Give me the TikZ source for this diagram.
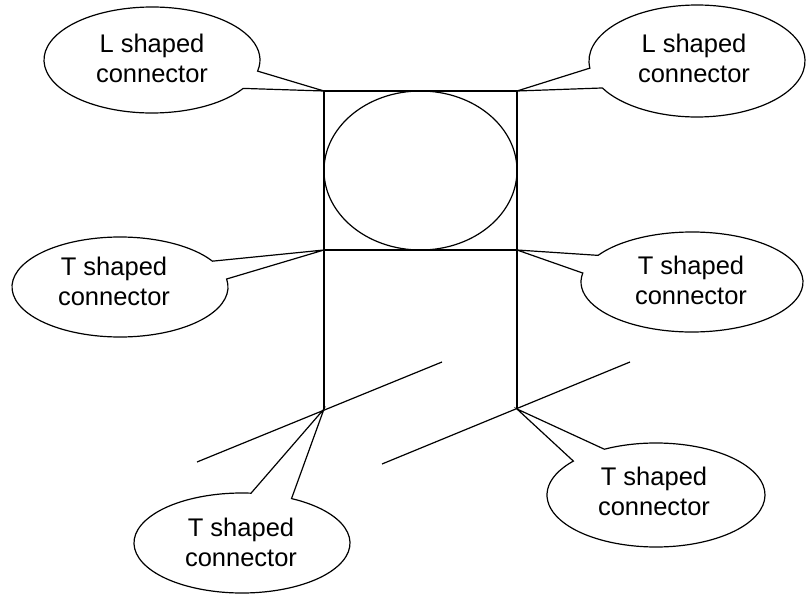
\documentclass[tikz,border=0pt]{standalone}
\usepackage{fontspec}
\setmainfont{Liberation Sans}
\begin{document}
\begin{tikzpicture}[x=1pt,y=-1pt,
  lw/.style={line width=1.2pt, line join=miter},
  bubble/.style={lw, draw=black, fill=white},
  lbl/.style={align=center, font=\fontsize{25.5}{30}\selectfont, inner sep=0pt}]
\useasboundingbox (0,0) rectangle (807,594);
% key points
\coordinate (tl) at (324,91);
\coordinate (tr) at (517,91);
\coordinate (ml) at (324,250);
\coordinate (mr) at (517,250);
\coordinate (bl) at (324,409);
\coordinate (br) at (517,409);
\coordinate (d1a) at (197,462);
\coordinate (d1b) at (442,362);
\coordinate (d2a) at (382,464);
\coordinate (d2b) at (630,362);
% frame
\draw[lw] (tl) rectangle (mr);
\draw[lw] (ml) -- (bl);
\draw[lw] (mr) -- (br);
\draw[lw] (420.5,170.5) ellipse [x radius=96.5, y radius=79.5];
\draw[lw] (d1a) -- (d1b);
\draw[lw] (d2a) -- (d2b);
% callouts
\draw[bubble] (152,60) ++(32.4:108 and 53) arc[start angle=32.4, end angle=372.1, x radius=108, y radius=53] -- (tl) -- cycle;
\draw[bubble] (697,61) ++(172.7:108 and 56) arc[start angle=172.7, end angle=511.2, x radius=108, y radius=56] -- (tr) -- cycle;
\draw[bubble] (120,287) ++(-9.2:108 and 50) arc[start angle=-9.2, end angle=328.9, x radius=108, y radius=50] -- (ml) -- cycle;
\draw[bubble] (692,282) ++(-147.8:111 and 50) arc[start angle=-147.8, end angle=190.3, x radius=111, y radius=50] -- (mr) -- cycle;
\draw[bubble] (242,543) ++(-62.7:108 and 50) arc[start angle=-62.7, end angle=274.8, x radius=108, y radius=50] -- (bl) -- cycle;
\draw[bubble] (656,495) ++(-118.3:109 and 52) arc[start angle=-118.3, end angle=220.7, x radius=109, y radius=52] -- (br) -- cycle;
% labels
\node[lbl] (t1) at (152,58) {L shaped\\connector};
\node[lbl] (t2) at (694,58) {L shaped\\connector};
\node[lbl] (t3) at (114,281) {T shaped\\connector};
\node[lbl] (t4) at (691,280) {T shaped\\connector};
\node[lbl] (t5) at (241,542) {T shaped\\connector};
\node[lbl] (t6) at (654,491) {T shaped\\connector};
\end{tikzpicture}
\end{document}
